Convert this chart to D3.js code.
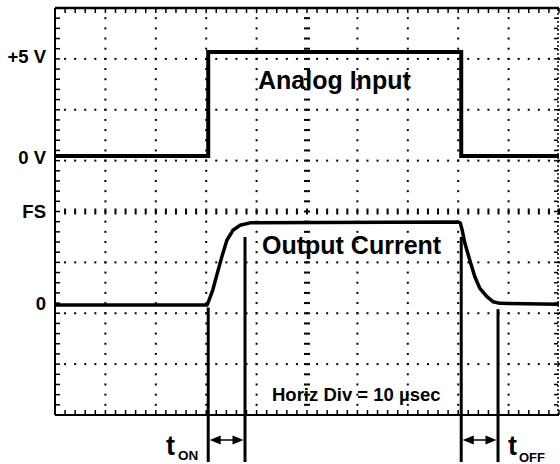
<!DOCTYPE html>
<html><head><meta charset="utf-8">
<script src="https://cdn.jsdelivr.net/npm/d3@7"></script>
<style>
html,body{margin:0;padding:0;background:#fff}
svg{display:block}
text{font-family:"Liberation Sans",Arial,Helvetica,sans-serif;font-weight:bold;fill:#000}
</style>
</head><body>
<svg id="c" width="560" height="464"></svg>
<script>
// ---- data ----
// time axis: 10 µs per division, 10 divisions
const inputTime  = [0, 30.4, 30.4, 80.6, 80.6, 100];
const inputVolts = [0, 0, 5, 5, 0, 0];
const outputTime = [0, 30.2, 31.3, 32.1, 33.1, 34.1, 35.3, 36.7, 38.7, 80.0, 80.4, 80.8, 81.3, 82.3, 83.3, 84.3, 85.7, 86.9, 88.3, 100];
const outputFS   = [0, 0, 0.18, 0.36, 0.58, 0.78, 0.90, 0.96, 0.99, 1.0, 0.99, 0.90, 0.75, 0.54, 0.34, 0.20, 0.10, 0.04, 0.02, 0.01];
const yTickLabels = ["+5 V", "0 V", "FS", "0"];
const yTickDivs   = [7.05, 5.07, 4.0, 2.2];
const markerTime  = [30.4, 37.7, 80.6, 87.9];
const markerTopFS = [-0.03, 0.82, 0.82, -0.05];
const intervalNames = ["ON", "OFF"];
const intervalStart = [30.4, 80.6];
const intervalEnd   = [37.7, 87.9];

// ---- scales ----
const svg = d3.select('#c');
const x    = d3.scaleLinear().domain([0, 100]).range([55, 559]);
const gy   = d3.scaleLinear().domain([0, 8]).range([415, 8]);
const yIn  = d3.scaleLinear().domain([0, 5]).range([156, 52]);
const yOut = d3.scaleLinear().domain([0, 1]).range([305, 222]);

const xMinor = d3.range(0, 100.001, 2);
const yMinor = d3.range(0, 8.001, 0.2);
const xMajor = [10, 20, 30, 40, 60, 70, 80, 90];
const yMajor = [1, 2, 3, 5, 6, 7];

const grid = svg.append('g');
// dotted graticule
xMajor.forEach(v => {
  grid.selectAll(null).data(yMinor).join('rect')
    .attr('x', x(v) - 1).attr('y', d => gy(d) - 1).attr('width', 2).attr('height', 2).attr('fill', '#000');
});
yMajor.forEach(v => {
  grid.selectAll(null).data(xMinor).join('rect')
    .attr('x', d => x(d) - 1).attr('y', gy(v) - 1).attr('width', 2).attr('height', 2).attr('fill', '#000');
});
// center axes with minor ticks
grid.selectAll(null).data(yMinor).join('rect')
  .attr('x', x(50) - 3).attr('y', d => gy(d) - 1).attr('width', 6).attr('height', 2).attr('fill', '#000');
grid.selectAll(null).data(xMinor).join('rect')
  .attr('x', d => x(d) - 1).attr('y', gy(4) - 3).attr('width', 2).attr('height', 6).attr('fill', '#000');

// borders with ticks
grid.append('line').attr('x1', x(0)).attr('x2', x(100)).attr('y1', gy(8)).attr('y2', gy(8)).attr('stroke', '#000').attr('stroke-width', 2.5);
grid.selectAll(null).data(xMinor).join('line')
  .attr('x1', d => x(d)).attr('x2', d => x(d)).attr('y1', gy(8)).attr('y2', gy(8) + 5).attr('stroke', '#000').attr('stroke-width', 1.5);
grid.append('line').attr('x1', x(0)).attr('x2', x(100)).attr('y1', gy(0)).attr('y2', gy(0)).attr('stroke', '#000').attr('stroke-width', 2);
grid.selectAll(null).data(xMinor).join('line')
  .attr('x1', d => x(d)).attr('x2', d => x(d)).attr('y1', gy(0)).attr('y2', gy(0) - 5).attr('stroke', '#000').attr('stroke-width', 1.5);
grid.append('line').attr('x1', x(0)).attr('x2', x(0)).attr('y1', gy(0)).attr('y2', gy(8)).attr('stroke', '#000').attr('stroke-width', 2);
grid.selectAll(null).data(yMinor).join('line')
  .attr('x1', x(0)).attr('x2', x(0) + 5).attr('y1', d => gy(d)).attr('y2', d => gy(d)).attr('stroke', '#000').attr('stroke-width', 1.5);
grid.append('line').attr('x1', x(100) - 1).attr('x2', x(100) - 1).attr('y1', gy(0)).attr('y2', gy(8))
  .attr('stroke', '#000').attr('stroke-width', 1.5).attr('stroke-dasharray', '2,2');
grid.selectAll(null).data(yMinor).join('line')
  .attr('x1', x(100) - 1).attr('x2', x(100) - 5).attr('y1', d => gy(d)).attr('y2', d => gy(d)).attr('stroke', '#000').attr('stroke-width', 1.5);

// ---- traces ----
const inLine = d3.line().x(d => x(d[0])).y(d => yIn(d[1]));
svg.append('path').datum(d3.zip(inputTime, inputVolts)).attr('d', inLine)
  .attr('fill', 'none').attr('stroke', '#000').attr('stroke-width', 4).attr('stroke-linejoin', 'miter');
const outLine = d3.line().x(d => x(d[0])).y(d => yOut(d[1]));
svg.append('path').datum(d3.zip(outputTime, outputFS)).attr('d', outLine)
  .attr('fill', 'none').attr('stroke', '#000').attr('stroke-width', 3.5).attr('stroke-linejoin', 'round');

// ---- markers ----
const markerBottom = 462;
svg.selectAll(null).data(d3.zip(markerTime, markerTopFS)).join('line')
  .attr('x1', d => x(d[0])).attr('x2', d => x(d[0]))
  .attr('y1', d => yOut(d[1])).attr('y2', markerBottom)
  .attr('stroke', '#000').attr('stroke-width', 3);

const arrowY = 440;
d3.zip(intervalStart, intervalEnd).forEach(([a, b]) => {
  const xa = x(a) + 1.5, xb = x(b) - 1.5;
  svg.append('line').attr('x1', xa + 6).attr('x2', xb - 6).attr('y1', arrowY).attr('y2', arrowY)
    .attr('stroke', '#000').attr('stroke-width', 1.5);
  svg.append('path').attr('d', `M${xa},${arrowY}L${xa + 11},${arrowY - 4.5}L${xa + 11},${arrowY + 4.5}Z`).attr('fill', '#000');
  svg.append('path').attr('d', `M${xb},${arrowY}L${xb - 11},${arrowY - 4.5}L${xb - 11},${arrowY + 4.5}Z`).attr('fill', '#000');
});

// ---- labels ----
svg.selectAll(null).data(d3.zip(yTickLabels, yTickDivs)).join('text')
  .attr('x', 46).attr('y', d => gy(d[1])).attr('dy', '0.35em')
  .attr('text-anchor', 'end').style('font-size', '18.5px').text(d => d[0]);

svg.append('text').attr('x', 258).attr('y', 89).style('font-size', '25px').text('Analog Input');
svg.append('text').attr('x', 262).attr('y', 254).style('font-size', '25px').text('Output Current');
svg.append('text').attr('x', 272).attr('y', 401).style('font-size', '18.5px').text('Horiz Div = 10 \u00b5sec');

// t_ON
svg.append('text').attr('x', 166).attr('y', 455).style('font-size', '27px').text('t');
svg.append('text').attr('x', 178).attr('y', 460).style('font-size', '13.5px').text(intervalNames[0]);
// t_OFF
svg.append('text').attr('x', 508).attr('y', 455).style('font-size', '27px').text('t');
svg.append('text').attr('x', 519).attr('y', 462).style('font-size', '13px').text(intervalNames[1]);
</script>
</body></html>
